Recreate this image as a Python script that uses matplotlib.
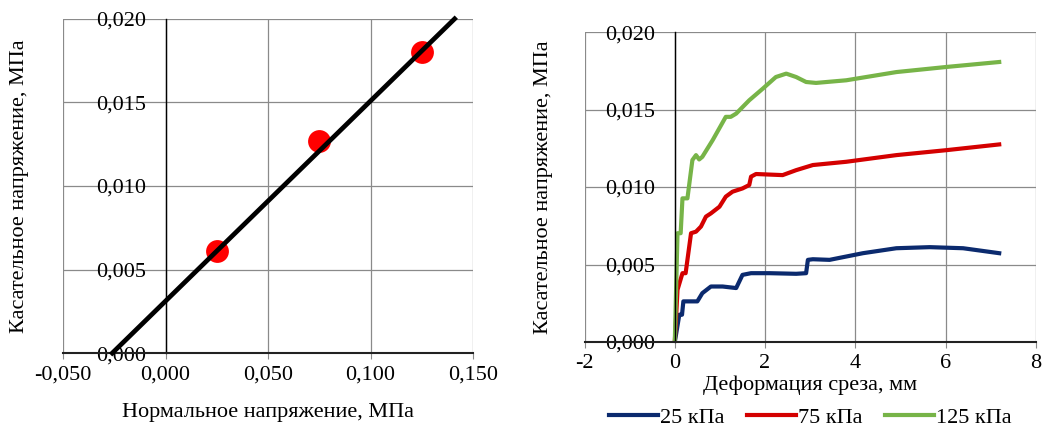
import matplotlib
matplotlib.use('Agg')
import matplotlib.pyplot as plt

plt.rcParams['font.family'] = ['Liberation Serif', 'DejaVu Serif']

# --- left chart: shear strength vs normal stress ---
normal_stress = [0.025, 0.075, 0.125]
shear_stress = [0.0061, 0.0127, 0.0180]
fit_x = [-0.026, 0.141]
fit_y = [0.000, 0.020]
left_xticks = [-0.050, 0.000, 0.050, 0.100, 0.150]
left_xlabels = ['-0,050', '0,000', '0,050', '0,100', '0,150']
yticks = [0.000, 0.005, 0.010, 0.015, 0.020]
ylabels = ['0,000', '0,005', '0,010', '0,015', '0,020']

# --- right chart: shear stress vs shear deformation ---
x_25 = [0, 0.10, 0.16, 0.19, 0.39, 0.50, 0.61, 0.80, 1.06, 1.36, 1.50, 1.69,
        2.10, 2.69, 2.91, 2.95, 3.06, 3.43, 4.17, 4.91, 5.65, 6.39, 7.19]
y_25 = [0, 0.00176, 0.00176, 0.00262, 0.00262, 0.00262, 0.00315, 0.00358,
        0.00358, 0.00348, 0.00433, 0.00444, 0.00444, 0.00440, 0.00444, 0.00530,
        0.00534, 0.00530, 0.00573, 0.00605, 0.00612, 0.00605, 0.00573]
x_75 = [0, 0.06, 0.17, 0.24, 0.36, 0.47, 0.58, 0.69, 0.80, 0.99, 1.13, 1.28,
        1.50, 1.65, 1.69, 1.80, 2.39, 2.69, 3.06, 3.80, 4.91, 6.02, 7.19]
y_75 = [0, 0.00337, 0.00444, 0.00444, 0.00702, 0.00712, 0.00745, 0.00809,
        0.00830, 0.00873, 0.00938, 0.00970, 0.00991, 0.01013, 0.01067, 0.01084,
        0.01077, 0.01109, 0.01142, 0.01163, 0.01206, 0.01238, 0.01275]
x_125 = [0, 0.06, 0.13, 0.17, 0.28, 0.39, 0.47, 0.54, 0.61, 0.84, 1.13, 1.24,
         1.36, 1.65, 1.95, 2.24, 2.47, 2.69, 2.91, 3.13, 3.80, 4.91, 6.02, 7.19]
y_125 = [0, 0.00702, 0.00702, 0.00927, 0.00927, 0.01174, 0.01206, 0.01178,
         0.01195, 0.01303, 0.01453, 0.01453, 0.01474, 0.01560, 0.01635, 0.01710,
         0.01732, 0.01710, 0.01678, 0.01672, 0.01689, 0.01742, 0.01775, 0.01807]
right_xticks = [-2, 0, 2, 4, 6, 8]
right_xlabels = ['-2', '0', '2', '4', '6', '8']
series_labels = ['25 кПа', '75 кПа', '125 кПа']
series_colors = ['#0b2a6e', '#d40000', '#77b448']

FS = 16
GRID = '#8a8a8a'

fig = plt.figure(figsize=(10.42, 4.28), dpi=100)


def _style_axes(ax):
    # Excel look: y axis crossing at x=0, grey grid acts as the frame
    for side in ('top', 'right'):
        ax.spines[side].set_visible(False)
    ax.spines['left'].set_position(('data', 0))
    ax.spines['left'].set_color('black')
    ax.spines['bottom'].set_color('#222222')
    ax.spines['left'].set_linewidth(1.0)
    ax.spines['bottom'].set_linewidth(1.5)
    ax.grid(True, color=GRID, lw=0.9)
    ax.set_axisbelow(True)
    ax.tick_params(axis='x', direction='out', length=4, color=GRID, pad=5, labelsize=FS)
    ax.tick_params(axis='y', direction='out', length=0, pad=14, labelsize=FS)


# left
axl = fig.add_axes([0.0605, 0.175, 0.3935, 0.781])
axl.set_xlim(-0.05, 0.15)
axl.set_ylim(0, 0.02)
axl.set_xticks(left_xticks)
axl.set_xticklabels(left_xlabels)
axl.set_yticks(yticks)
axl.set_yticklabels(ylabels)
_style_axes(axl)
axl.plot(fit_x, fit_y, color='black', lw=3.4, zorder=3, clip_on=False)
axl.scatter(normal_stress, shear_stress, s=270, color='#ff0000', lw=0, zorder=2)
axl.set_xlabel('Нормальное напряжение, МПа', fontsize=FS)
axl.xaxis.set_label_coords(0.5, -0.148)
axl.set_ylabel('Касательное напряжение, МПа', fontsize=FS)
axl.yaxis.set_label_coords(-0.083, 0.5)

# right
axr = fig.add_axes([0.561, 0.201, 0.433, 0.724])
axr.set_xlim(-2, 8)
axr.set_ylim(0, 0.02)
axr.set_xticks(right_xticks)
axr.set_xticklabels(right_xlabels)
axr.set_yticks(yticks)
axr.set_yticklabels(ylabels)
_style_axes(axr)
for xs, ys, lab, col in zip([x_25, x_75, x_125], [y_25, y_75, y_125],
                            series_labels, series_colors):
    axr.plot(xs, ys, color=col, lw=3.0, label=lab, solid_joinstyle='round')
axr.set_xlabel('Деформация среза, мм', fontsize=FS)
axr.xaxis.set_label_coords(0.5, -0.108)
axr.set_ylabel('Касательное напряжение, МПа', fontsize=FS)
axr.yaxis.set_label_coords(-0.069, 0.5)
axr.legend(loc='center', bbox_to_anchor=(0.5, -0.243), ncol=3, frameon=False,
           fontsize=FS, handlelength=2.2, handletextpad=0.1, columnspacing=1.0,
           borderaxespad=0, borderpad=0)

fig.savefig('out.png', dpi=100)
